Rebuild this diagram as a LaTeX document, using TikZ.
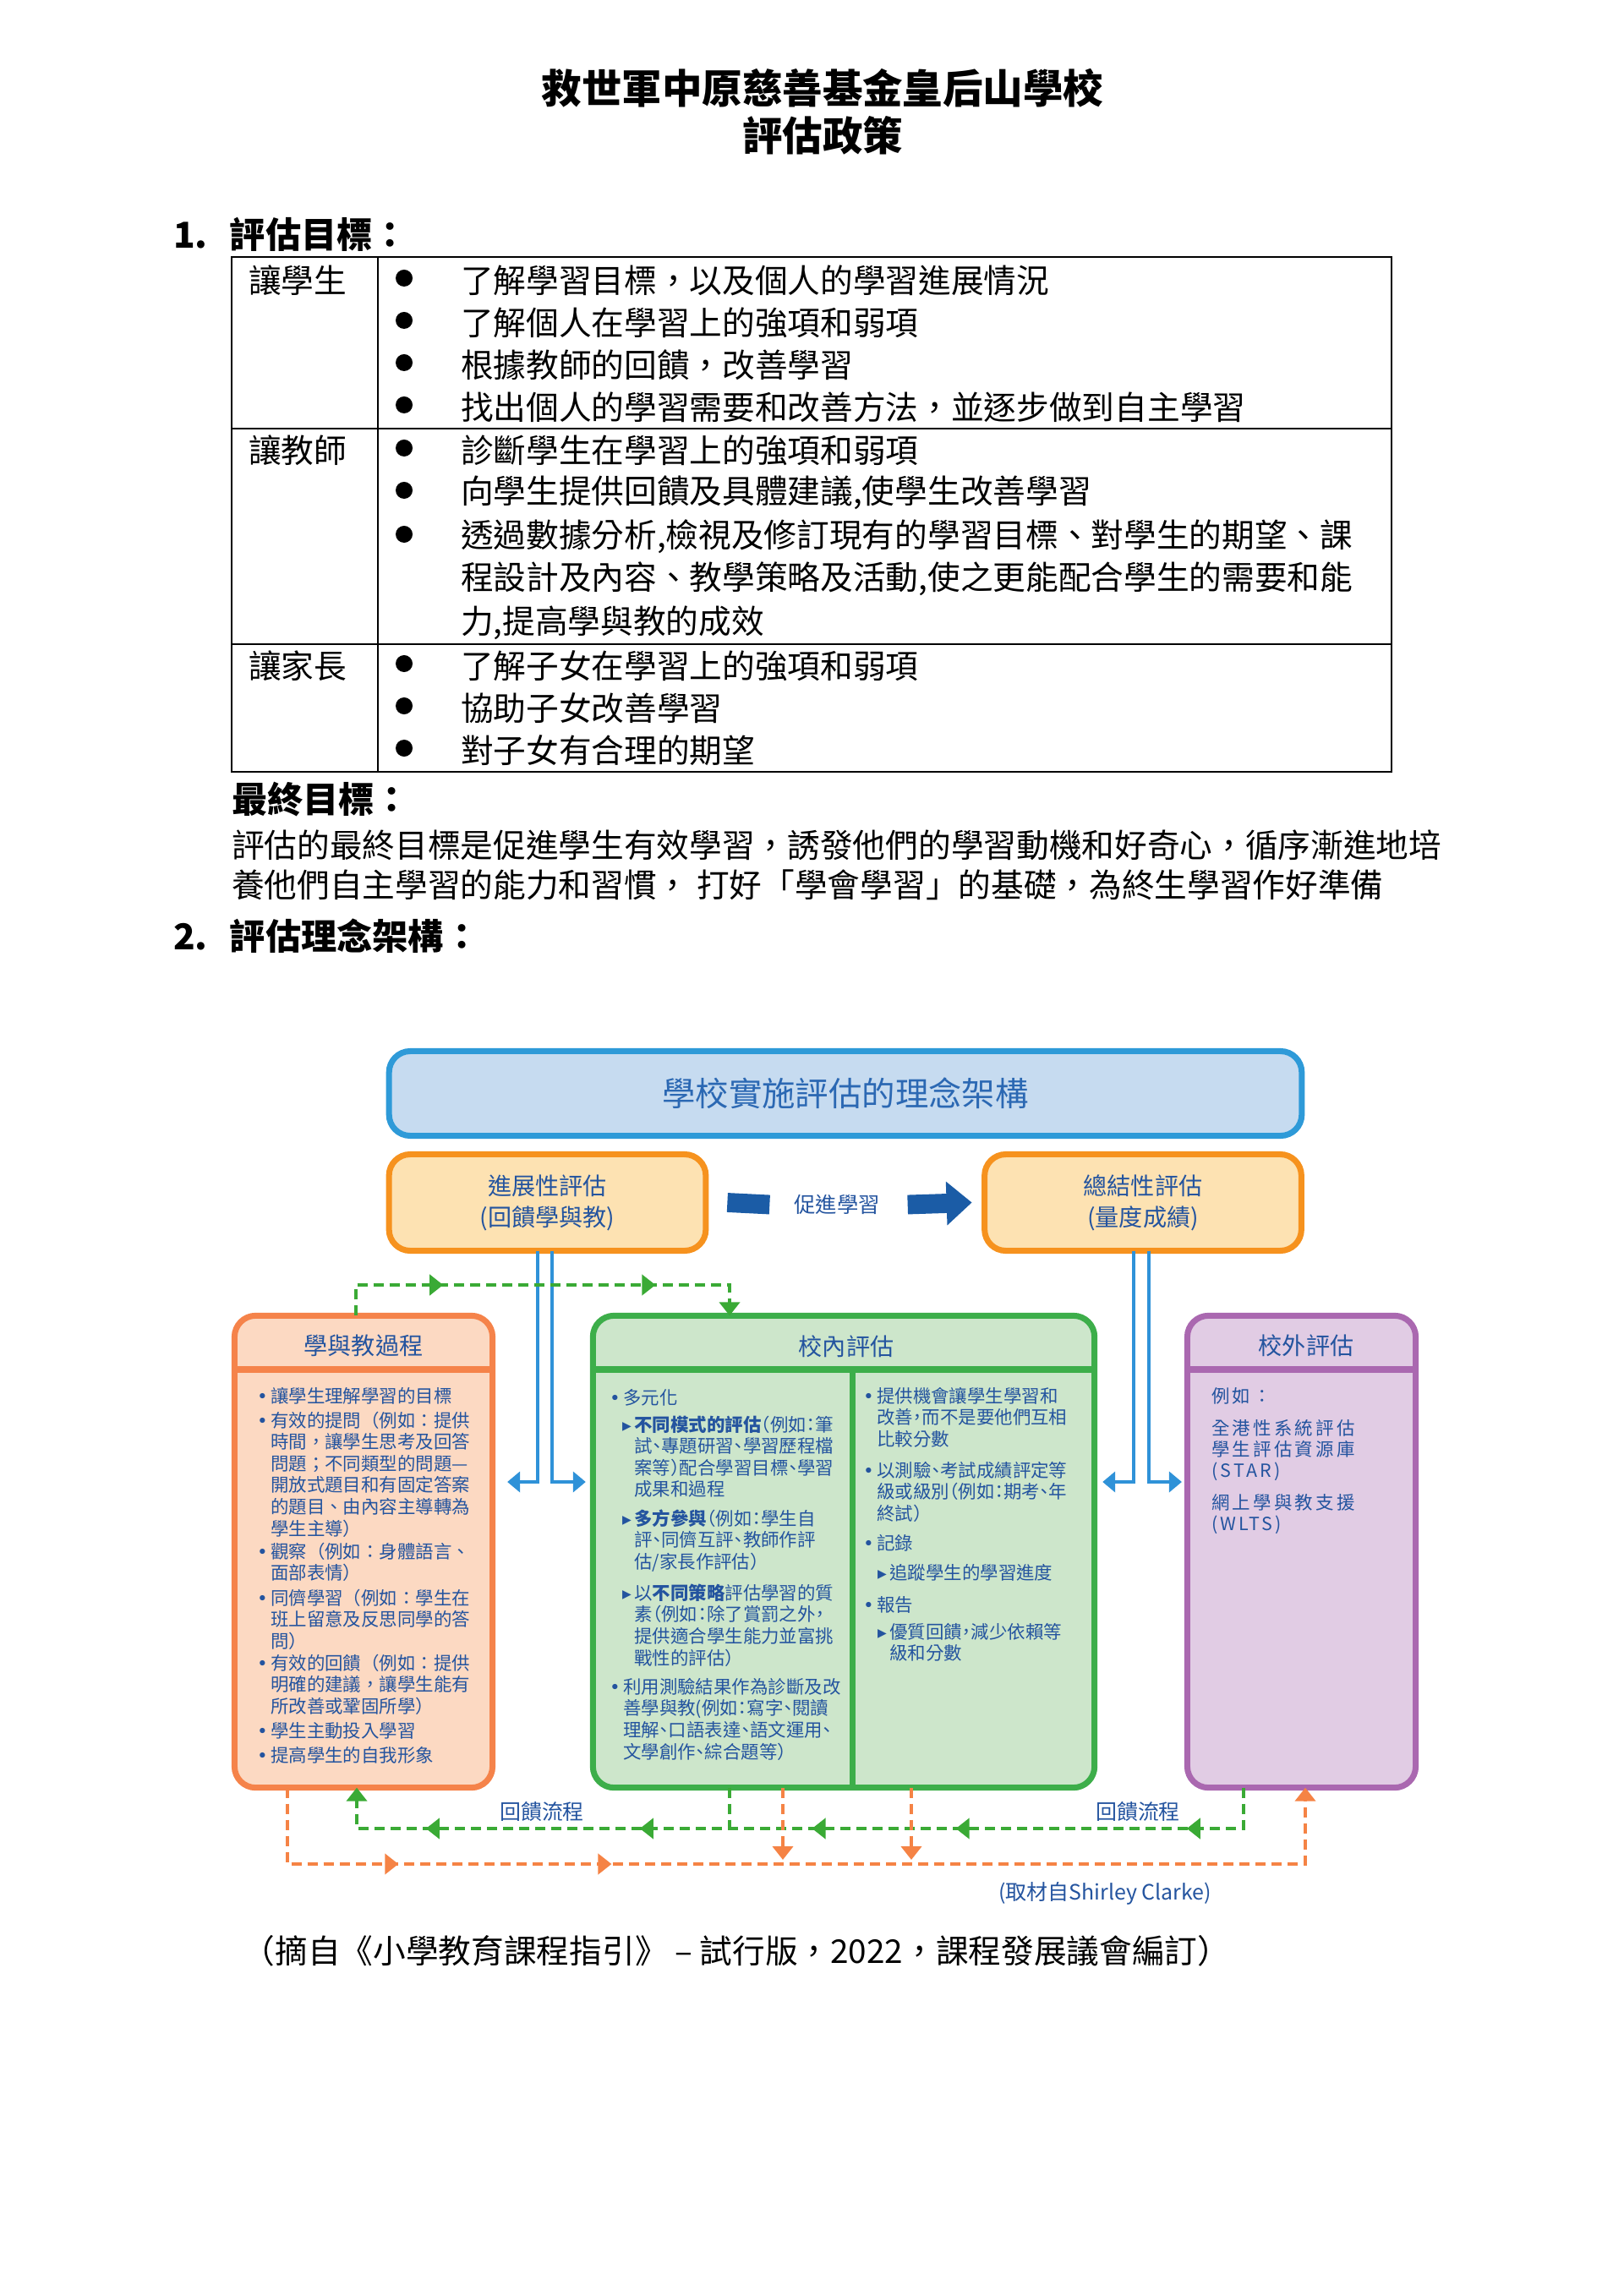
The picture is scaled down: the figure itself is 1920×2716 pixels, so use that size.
\documentclass[tikz,border=0pt]{standalone}
\usepackage{fontspec}
\setmainfont{Noto Sans CJK TC}
\newfontfamily\symfont{DejaVu Sans}
\newfontfamily\midfont[RawFeature=+halt]{Noto Sans CJK TC}
\newfontfamily\widefont[LetterSpace=15]{Noto Sans CJK TC}
\usetikzlibrary{arrows.meta,decorations.markings}

\definecolor{inkblue}{HTML}{24549F}
\definecolor{headblue}{HTML}{2B68B3}
\definecolor{topline}{HTML}{2E9AD8}
\definecolor{topfill}{HTML}{C6DBF0}
\definecolor{evline}{HTML}{F6921E}
\definecolor{evfill}{HTML}{FDE2B2}
\definecolor{lpline}{HTML}{F5834A}
\definecolor{lpfill}{HTML}{FCD9C2}
\definecolor{mpline}{HTML}{3DAE4A}
\definecolor{mpfill}{HTML}{CDE6CB}
\definecolor{rpline}{HTML}{AA68B0}
\definecolor{rpfill}{HTML}{E1CCE4}
\definecolor{promoblue}{HTML}{1B5CA6}
\definecolor{linkblue}{HTML}{2F92D8}
\definecolor{fbgreen}{HTML}{3AAA35}
\definecolor{fborange}{HTML}{F58345}

\newcommand\itembl[1]{{\symfont •}\hspace{1pt}\begin{tabular}[t]{@{}l@{}}#1\end{tabular}}
\newcommand\itemtri[1]{{\symfont ▸}\hspace{1pt}\begin{tabular}[t]{@{}l@{}}#1\end{tabular}}
\newcommand\lines[1]{\begin{tabular}[t]{@{}l@{}}#1\end{tabular}}

\begin{document}
\begin{tikzpicture}[x=0.01cm,y=-0.01cm,line width=.8pt,
  every node/.style={inner sep=0pt,outer sep=0pt},
  >={Triangle[length=0.16cm,width=0.24cm]},
  pagetitle/.style={font=\bfseries\fontsize{13.5}{16}\selectfont},
  sechead/.style={anchor=west,font=\bfseries\fontsize{12}{14}\selectfont},
  tabtxt/.style={anchor=west,font=\fontsize{11}{13}\selectfont},
  tdot/.style={circle,fill=black,minimum size=0.2cm},
  topbox/.style={draw=topline,fill=topfill,line width=2pt,rounded corners=0.25cm,
    minimum width=10.79cm,minimum height=1cm,text=headblue,font=\fontsize{11.2}{13}\selectfont},
  evalbox/.style={draw=evline,fill=evfill,line width=2pt,rounded corners=0.25cm,
    minimum width=3.745cm,minimum height=1.14cm,align=center,text=inkblue,
    font=\fontsize{8}{10.5}\selectfont},
  panel/.style={line width=2pt,rounded corners=0.25cm,minimum height=5.58cm},
  ptitle/.style={text=inkblue,font=\fontsize{8}{10}\selectfont},
  ltxt/.style={anchor=base west,text=inkblue,font=\fontsize{6.1}{7.1}\selectfont},
  mtxt/.style={anchor=base west,text=inkblue,font=\midfont\fontsize{6.1}{7.1}\selectfont},
  rtxt/.style={anchor=base west,text=inkblue,font=\widefont\fontsize{6.1}{7.1}\selectfont},
  flowlbl/.style={text=inkblue,font=\fontsize{7.1}{9}\selectfont},
  promo/.style={draw=promoblue,line width=6.5pt},
  link/.style={draw=linkblue,line width=1.1pt,-{Triangle[length=0.15cm,width=0.24cm]}},
  gflow/.style={color=fbgreen,line width=1.4pt,dash pattern=on 0.12cm off 0.07cm},
  oflow/.style={color=fborange,line width=1.4pt,dash pattern=on 0.12cm off 0.07cm},
  midtip/.style={postaction={decorate,decoration={markings,mark=at position #1 with {\arrow{>}}}}}]
\useasboundingbox (0,0) rectangle (1920,2716);

\node[pagetitle] (ttl1) at (973,104) {救世軍中原慈善基金皇后山學校};
\node[pagetitle] (ttl2) at (973,160) {評估政策};
\node[sechead] (sec1) at (205,277) {1.\hspace{7.5pt}評估目標：};

\draw (274,304) rectangle (1646,913);
\draw (447,304) -- (447,913);
\draw (274,507) -- (1646,507);
\draw (274,762) -- (1646,762);
\node[tabtxt] (who1) at (294,332) {讓學生};
\node[tabtxt] (who2) at (294,533) {讓教師};
\node[tabtxt] (who3) at (294,788) {讓家長};
\foreach \y [count=\i] in {332,382,432,482,533,583,635,788,838,888}
  \node[tdot] (d\i) at (478,\y-3) {};
\node[tabtxt] (s1) at (545,332) {了解學習目標，以及個人的學習進展情況};
\node[tabtxt] (s2) at (545,382) {了解個人在學習上的強項和弱項};
\node[tabtxt] (s3) at (545,432) {根據教師的回饋，改善學習};
\node[tabtxt] (s4) at (545,482) {找出個人的學習需要和改善方法，並逐步做到自主學習};
\node[tabtxt] (t1) at (545,533) {診斷學生在學習上的強項和弱項};
\node[tabtxt] (t2) at (545,583) {向學生提供回饋及具體建議,使學生改善學習};
\node[tabtxt] (t3) at (545,635) {透過數據分析,檢視及修訂現有的學習目標、對學生的期望、課};
\node[tabtxt] (t4) at (545,685) {程設計及內容、教學策略及活動,使之更能配合學生的需要和能};
\node[tabtxt] (t5) at (545,737) {力,提高學與教的成效};
\node[tabtxt] (p1) at (545,788) {了解子女在學習上的強項和弱項};
\node[tabtxt] (p2) at (545,838) {協助子女改善學習};
\node[tabtxt] (p3) at (545,888) {對子女有合理的期望};

\node[sechead] (fin) at (274,946) {最終目標：};
\node[tabtxt] (aim1) at (274,1000) {評估的最終目標是促進學生有效學習，誘發他們的學習動機和好奇心，循序漸進地培};
\node[tabtxt] (aim2) at (274,1047) {養他們自主學習的能力和習慣， 打好「學會學習」的基礎，為終生學習作好準備};
\node[sechead] (sec2) at (205,1107) {2.\hspace{7.5pt}評估理念架構：};

\node[topbox] (frame) at (1000,1293.5) {學校實施評估的理念架構};
\node[evalbox] (ol) at (647.5,1422.5) {進展性評估\\(回饋學與教)};
\node[evalbox] (or) at (1352,1422.5) {總結性評估\\(量度成績)};
\node[text=inkblue,font=\fontsize{7.2}{9}\selectfont] (pl) at (990,1425) {促進學習};
\draw[promo] ([xshift=0.255cm]ol.east) -- ([xshift=-0.29cm]pl.west);
\draw[promo,-{Triangle[length=0.3cm,width=0.5cm]}] ([xshift=0.33cm]pl.east) -- ([xshift=-0.15cm]or.west);

\node[panel,draw=lpline,fill=lpfill,minimum width=3.05cm] (lp) at (430,1835.5) {};
\node[panel,draw=mpline,fill=mpfill,minimum width=5.93cm] (mp) at (998,1835.5) {};
\node[panel,draw=rpline,fill=rpfill,minimum width=2.70cm] (rp) at (1539.5,1835.5) {};
\coordinate (hd) at (0,1620);
\coordinate (mdiv) at (1008,1620);
\draw[lpline,line width=2pt] (lp.west |- hd) -- (lp.east |- hd);
\draw[mpline,line width=2pt] (mp.west |- hd) -- (mp.east |- hd);
\draw[mpline,line width=2pt] (mdiv) -- (mp.south -| mdiv);
\draw[rpline,line width=2pt] (rp.west |- hd) -- (rp.east |- hd);
\node[ptitle] (lpt) at (430,1592) {學與教過程};
\node[ptitle] (mpt) at (1001,1593) {校內評估};
\node[ptitle] (rpt) at (1545,1592) {校外評估};

\node[ltxt] (lp1) at (304,1659) {\itembl{讓學生理解學習的目標}};
\node[ltxt] (lp2) at (304,1688) {\itembl{有效的提問（例如：提供\\時間，讓學生思考及回答\\問題；不同類型的問題—\\開放式題目和有固定答案\\的題目、由內容主導轉為\\學生主導）}};
\node[ltxt] (lp3) at (304,1843) {\itembl{觀察（例如：身體語言、\\面部表情）}};
\node[ltxt] (lp4) at (304,1898) {\itembl{同儕學習（例如：學生在\\班上留意及反思同學的答\\問）}};
\node[ltxt] (lp5) at (304,1975) {\itembl{有效的回饋（例如：提供\\明確的建議，讓學生能有\\所改善或鞏固所學）}};
\node[ltxt] (lp6) at (304,2055) {\itembl{學生主動投入學習}};
\node[ltxt] (lp7) at (304,2084) {\itembl{提高學生的自我形象}};

\node[mtxt] (ml1) at (721,1661) {\itembl{多元化}};
\node[mtxt] (ml2) at (736,1693) {\itemtri{\textbf{不同模式的評估}（例如：筆\\試、專題研習、學習歷程檔\\案等）配合學習目標、學習\\成果和過程}};
\node[mtxt] (ml3) at (736,1804) {\itemtri{\textbf{多方參與}（例如：學生自\\評、同儕互評、教師作評\\估/家長作評估）}};
\node[mtxt] (ml4) at (736,1892) {\itemtri{以\textbf{不同策略}評估學習的質\\素（例如：除了賞罰之外，\\提供適合學生能力並富挑\\戰性的評估）}};
\node[mtxt] (ml5) at (721,2003) {\itembl{利用測驗結果作為診斷及改\\善學與教(例如：寫字、閱讀\\理解、口語表達、語文運用、\\文學創作、綜合題等）}};
\node[mtxt] (mr1) at (1021,1659) {\itembl{提供機會讓學生學習和\\改善，而不是要他們互相\\比較分數}};
\node[mtxt] (mr2) at (1021,1747) {\itembl{以測驗、考試成績評定等\\級或級別（例如：期考、年\\終試）}};
\node[mtxt] (mr3) at (1021,1833) {\itembl{記錄}};
\node[mtxt] (mr4) at (1038,1868) {\itemtri{追蹤學生的學習進度}};
\node[mtxt] (mr5) at (1021,1906) {\itembl{報告}};
\node[mtxt] (mr6) at (1038,1938) {\itemtri{優質回饋，減少依賴等\\級和分數}};

\node[rtxt] (rp1) at (1433,1659) {例如：};
\node[rtxt] (rp2) at (1433,1697) {\lines{全港性系統評估\\學生評估資源庫\\(STAR)}};
\node[rtxt] (rp3) at (1433,1785) {\lines{網上學與教支援\\(WLTS)}};

\coordinate (bl1) at (636,1753);
\coordinate (bl2) at (653,1753);
\coordinate (br1) at (1341,1753);
\coordinate (br2) at (1359,1753);
\draw[link,shorten >=0.175cm] (ol.south -| bl1) |- (lp.east |- bl1);
\draw[link,shorten >=0.085cm] (ol.south -| bl2) |- (mp.west |- bl2);
\draw[link,shorten >=0.095cm] (or.south -| br1) |- (mp.east |- br1);
\draw[link,shorten >=0.065cm] (or.south -| br2) |- (rp.west |- br2);

\coordinate (gt1) at (421,1520);
\coordinate (gt2) at (863,1520);
\draw[gflow,->,midtip/.list={1.395cm,3.905cm}] (lp.north -| gt1) |- (gt2) -- (mp.north -| gt2);

\coordinate (gb1) at (1471,2163);
\coordinate (gb2) at (422,2163);
\coordinate (gb3) at (863,2163);
\draw[gflow,->,midtip/.list={1.155cm,3.885cm,5.585cm,7.62cm,10.149cm}] (rp.south -| gb1) |- (gb2) -- (lp.south -| gb2);
\draw[gflow] (mp.south -| gb3) -- (gb3);

\coordinate (ob1) at (340,2205);
\coordinate (ob2) at (1544,2205);
\coordinate (od1) at (926,2200);
\coordinate (od2) at (1078,2200);
\draw[oflow,->,midtip/.list={2.215cm,4.735cm}] (lp.south -| ob1) |- (ob2) -- (rp.south -| ob2);
\draw[oflow,->] (mp.south -| od1) -- (od1);
\draw[oflow,->] (mp.south -| od2) -- (od2);

\node[flowlbl] (fl1) at (641,2143) {回饋流程};
\node[flowlbl] (fl2) at (1346,2143) {回饋流程};
\node[flowlbl] (cite) at (1307,2240) {(取材自Shirley Clarke)};

\node[tabtxt,anchor=center] (src) at (871,2308) {（摘自《小學教育課程指引》 – 試行版，2022，課程發展議會編訂）};
\end{tikzpicture}
\end{document}
